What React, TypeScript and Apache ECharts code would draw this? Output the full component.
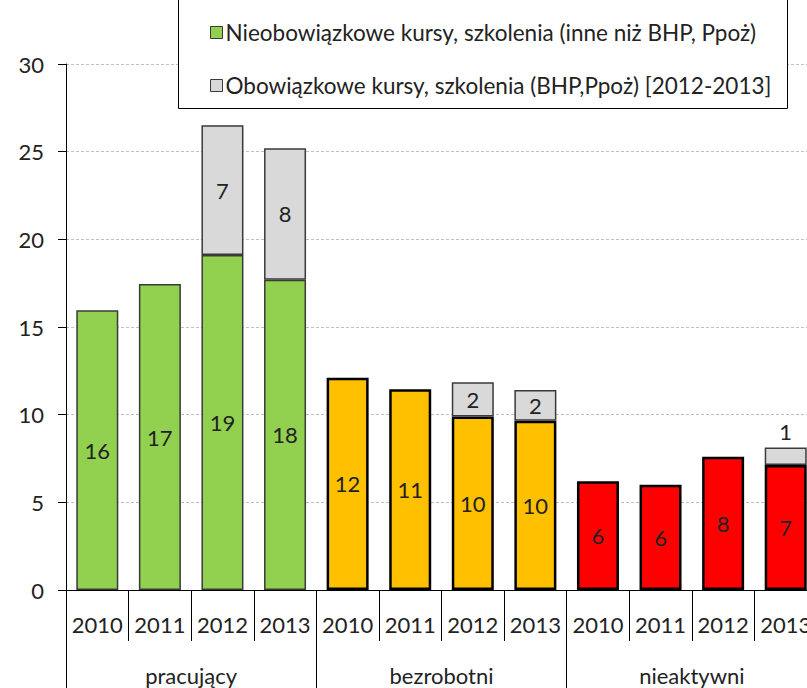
import React, { useEffect, useRef } from "react";
import * as echarts from "echarts";

const years = ["2010", "2011", "2012", "2013", "2010", "2011", "2012", "2013", "2010", "2011", "2012", "2013"];
const groups = ["pracujący", "bezrobotni", "nieaktywni"];
const voluntary = [15.95, 17.45, 19.1, 17.7, 12.1, 11.45, 9.9, 9.65, 6.2, 6.0, 7.6, 7.13];
const mandatory: (number | null)[] = [null, null, 7.4, 7.5, null, null, 1.95, 1.75, null, null, null, 1.0];
const groupColors = ["#92D050", "#FFC000", "#FF0000"];
const legendNames = [
  "Nieobowiązkowe kursy, szkolenia (inne niż BHP, Ppoż)",
  "Obowiązkowe kursy, szkolenia (BHP,Ppoż) [2012-2013]",
];
const yTicks = { min: 0, max: 30, interval: 5 };

const FONT = "Lato";
const FS = 22;
const TXT = "#222";

export default function App() {
  const ref = useRef<HTMLDivElement>(null);
  useEffect(() => {
    if (!ref.current) return;
    const chart = echarts.init(ref.current, undefined, { renderer: "svg" });
    const volData = voluntary.map((v, i) => {
      const g = Math.floor(i / 4);
      return {
        value: v,
        itemStyle: {
          color: groupColors[g],
          borderColor: g === 0 ? "#3a3a3a" : "#000",
          borderWidth: g === 0 ? 1.5 : 2.5,
        },
      };
    });
    const manData = mandatory.map((v, i) =>
      i === 11 && v != null
        ? { value: v, label: { position: "top", distance: 5 } }
        : { value: v }
    );
    chart.setOption({
      animation: false,
      textStyle: { fontFamily: FONT },
      grid: { left: 66, right: 13, top: 64, bottom: 98, containLabel: false },
      graphic: [
        {
          type: "rect",
          z: 8,
          shape: { x: 178.5, y: -10, width: 609, height: 118.5 },
          style: { fill: "#fff", stroke: "#000", lineWidth: 1 },
        },
      ],
      legend: {
        z: 10,
        orient: "vertical",
        left: 205,
        top: 16,
        itemWidth: 12,
        itemHeight: 12,
        itemGap: 30,
        icon: "rect",
        textStyle: { fontFamily: FONT, fontSize: 22.5, color: TXT, padding: [0, 0, 0, -2] },
        data: [
          { name: legendNames[0], itemStyle: { color: "#92D050", borderColor: "#3a3a3a", borderWidth: 1 } },
          { name: legendNames[1], itemStyle: { color: "#D9D9D9", borderColor: "#3a3a3a", borderWidth: 1 } },
        ],
      },
      xAxis: [
        {
          type: "category",
          data: years,
          position: "bottom",
          axisLine: { lineStyle: { color: "#000", width: 1 } },
          axisTick: { show: true, length: 51, interval: 0, lineStyle: { color: "#000" } },
          axisLabel: { interval: 0, fontSize: FS, color: TXT, margin: 23, fontFamily: FONT },
        },
        {
          type: "category",
          data: groups,
          position: "bottom",
          axisLine: { show: false },
          axisTick: { show: true, length: 110, interval: 0, lineStyle: { color: "#000" } },
          axisLabel: { interval: 0, fontSize: FS, color: TXT, margin: 74, fontFamily: FONT },
        },
      ],
      yAxis: {
        type: "value",
        min: yTicks.min,
        max: yTicks.max,
        interval: yTicks.interval,
        axisLine: { show: true, lineStyle: { color: "#000" } },
        axisTick: { show: true, length: 8, lineStyle: { color: "#000" } },
        axisLabel: { fontSize: FS, color: TXT, margin: 22, fontFamily: FONT },
        splitLine: { lineStyle: { color: "#BFBFBF", type: [3, 2], width: 1 } },
      },
      series: [
        {
          name: legendNames[0],
          type: "bar",
          stack: "total",
          barWidth: 42,
          itemStyle: { color: "#92D050", borderColor: "#3a3a3a", borderWidth: 1.5 },
          label: {
            show: true,
            position: "inside",
            fontSize: FS,
            color: TXT,
            fontFamily: FONT,
            formatter: (p: any) => String(Math.round(p.value)),
          },
          data: volData,
        },
        {
          name: legendNames[1],
          type: "bar",
          stack: "total",
          barWidth: 42,
          itemStyle: { color: "#D9D9D9", borderColor: "#3a3a3a", borderWidth: 1.5 },
          label: {
            show: true,
            position: "inside",
            fontSize: FS,
            color: TXT,
            fontFamily: FONT,
            formatter: (p: any) => (p.value == null ? "" : String(Math.round(p.value))),
          },
          data: manData,
        },
      ],
    });
    return () => chart.dispose();
  }, []);
  return (
    <div style={{ position: "fixed", left: 0, top: 0, width: 807, height: 688, overflow: "hidden", background: "#fff" }}>
      <div ref={ref} style={{ width: 830, height: 688 }} />
    </div>
  );
}
